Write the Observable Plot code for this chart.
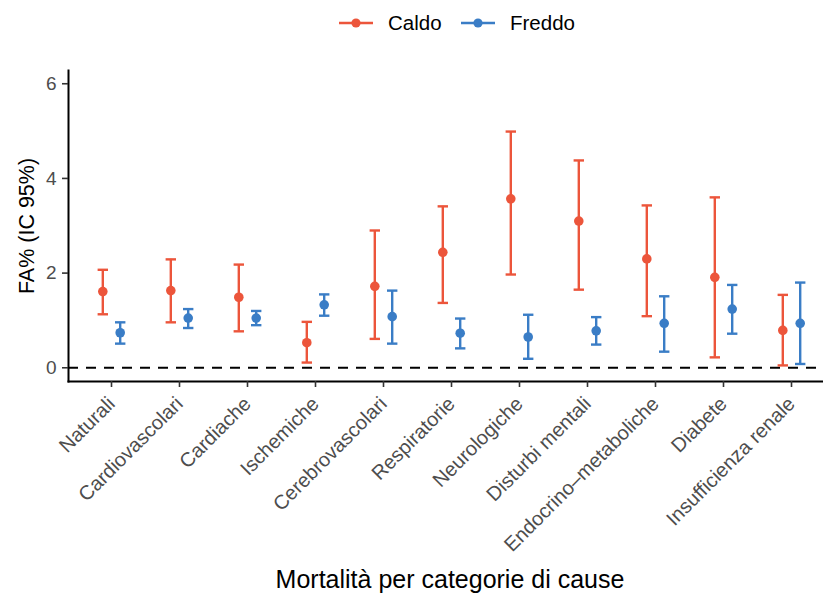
<!DOCTYPE html>
<html>
<head>
<meta charset="utf-8">
<script src="https://cdn.jsdelivr.net/npm/d3@7"></script>
<script src="https://cdn.jsdelivr.net/npm/@observablehq/plot@0.6"></script>
<style>
  html, body { margin: 0; padding: 0; background: #fff; overflow: hidden; }
  body { width: 823px; font-family: "Liberation Sans", Arial, Helvetica, sans-serif; }
  #legend { position: relative; height: 45px; }
  .item { position: absolute; top: 0; height: 45px; display: flex; align-items: center; font-size: 20.5px; color: #000; }
  .item svg { display: block; }
  #xtitle { height: 29px; text-align: center; font-size: 25px; color: #000; padding-left: 77px; line-height: 29px; }
</style>
</head>
<body>
<div id="legend"></div>
<div id="chart"></div>
<div id="xtitle">Mortalità per categorie di cause</div>
<script>
// ---- data ----
const categories = ["Naturali", "Cardiovascolari", "Cardiache", "Ischemiche", "Cerebrovascolari",
  "Respiratorie", "Neurologiche", "Disturbi mentali", "Endocrino\u2013metaboliche", "Diabete", "Insufficienza renale"];
const seriesNames = ["Caldo", "Freddo"];
const seriesColors = ["#EC553B", "#3A7DC6"];
const caldoEst = [1.61, 1.63, 1.49, 0.53, 1.72, 2.44, 3.57, 3.10, 2.30, 1.91, 0.79];
const caldoLo  = [1.13, 0.96, 0.77, 0.11, 0.61, 1.37, 1.97, 1.65, 1.09, 0.22, 0.05];
const caldoHi  = [2.07, 2.29, 2.18, 0.97, 2.90, 3.41, 4.99, 4.38, 3.43, 3.60, 1.54];
const freddoEst = [0.74, 1.05, 1.05, 1.33, 1.08, 0.73, 0.65, 0.78, 0.94, 1.24, 0.94];
const freddoLo  = [0.51, 0.84, 0.90, 1.10, 0.51, 0.41, 0.19, 0.49, 0.34, 0.72, 0.08];
const freddoHi  = [0.96, 1.24, 1.20, 1.55, 1.63, 1.04, 1.12, 1.07, 1.51, 1.75, 1.80];
const yTicks = [0, 2, 4, 6];
const yDomain = [-0.29, 6.28];
const yLabel = "FA% (IC 95%)";

const caldo = categories.map((c, i) => ({cat: c, est: caldoEst[i], lo: caldoLo[i], hi: caldoHi[i]}));
const freddo = categories.map((c, i) => ({cat: c, est: freddoEst[i], lo: freddoLo[i], hi: freddoHi[i]}));

// horizontal cap symbol
const capSymbol = {
  draw(ctx, size) { const w = Math.sqrt(size / Math.PI); ctx.moveTo(-w, 0); ctx.lineTo(w, 0); }
};

const DODGE = 8.7;
function seriesMarks(data, color, dx) {
  return [
    Plot.ruleX(data, {x: "cat", y1: "lo", y2: "hi", stroke: color, strokeWidth: 2.4, dx}),
    Plot.dot(data, {x: "cat", y: "hi", symbol: capSymbol, r: 5.2, stroke: color, strokeWidth: 2.4, fill: "none", dx}),
    Plot.dot(data, {x: "cat", y: "lo", symbol: capSymbol, r: 5.2, stroke: color, strokeWidth: 2.4, fill: "none", dx}),
    Plot.dot(data, {x: "cat", y: "est", r: 4.8, fill: color, stroke: "none", dx})
  ];
}

const chart = Plot.plot({
  width: 823,
  height: 520,
  marginTop: 25,
  marginBottom: 184,
  marginLeft: 68,
  marginRight: 0,
  style: {fontFamily: "'Liberation Sans', Arial, Helvetica, sans-serif", background: "#fff", overflow: "visible"},
  x: {type: "point", domain: categories, padding: 0.527, align: 0.569},
  y: {domain: yDomain},
  marks: [
    Plot.frame({anchor: "left", stroke: "#000", strokeWidth: 2}),
    Plot.frame({anchor: "bottom", stroke: "#000", strokeWidth: 2}),
    Plot.axisY({ticks: yTicks, tickFormat: d3.format("d"), tickSize: 6, tickPadding: 6, fontSize: 19, color: "#4D4D4D", stroke: "#333", strokeWidth: 1.6, label: null}),
    Plot.axisY({ticks: [], label: yLabel, labelAnchor: "center", labelArrow: "none", labelOffset: 50, fontSize: 21.5, color: "#000"}),
    Plot.axisX({tickRotate: -45, tickSize: 6, tickPadding: 13, fontSize: 20, color: "#4D4D4D", stroke: "#333", strokeWidth: 1.6, label: null}),
    Plot.ruleY([0], {stroke: "#000", strokeWidth: 2, strokeDasharray: "10,8"}),
    ...seriesMarks(caldo, seriesColors[0], -DODGE),
    ...seriesMarks(freddo, seriesColors[1], DODGE)
  ]
});
document.getElementById("chart").appendChild(chart);

// ---- legend ----
const legend = document.getElementById("legend");
const legendLefts = [339, 461];
seriesNames.forEach((name, i) => {
  const item = document.createElement("div");
  item.className = "item";
  item.style.left = legendLefts[i] + "px";
  const c = seriesColors[i];
  item.innerHTML = `<svg width="34" height="14"><line x1="0" x2="34" y1="7" y2="7" stroke="${c}" stroke-width="2.6"/><circle cx="17" cy="7" r="4.6" fill="${c}"/></svg><span style="margin-left:15px">${name}</span>`;
  legend.appendChild(item);
});
</script>
</body>
</html>
